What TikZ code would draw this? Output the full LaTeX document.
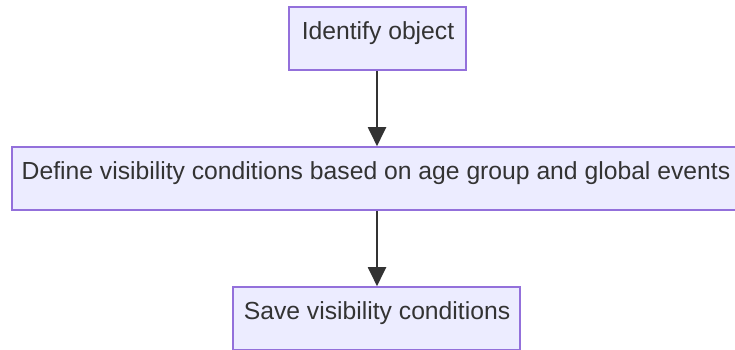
\documentclass[tikz,border=0pt]{standalone}
\usepackage{fontspec}
\setmainfont{Liberation Sans}
\usetikzlibrary{arrows.meta}
\definecolor{boxfill}{HTML}{ECECFF}
\definecolor{boxline}{HTML}{9370DB}
\definecolor{ink}{HTML}{333333}
\tikzset{
  stepbox/.style={draw=boxline, fill=boxfill, line width=1.6pt, inner sep=0pt},
  boxtext/.style={font=\fontsize{24.7}{28}\selectfont, text=ink},
  flow/.style={draw=ink, line width=2pt, -{Triangle[length=19pt,width=18pt]}}
}
\begin{document}
\begin{tikzpicture}[x=1pt,y=-1pt]
  \useasboundingbox (0,0) rectangle (735,349);
  \clip (0,0) rectangle (735,349);
  \fill[white] (0,0) rectangle (735,349);
  % boxes
  \node[stepbox, minimum width=177pt, minimum height=63pt] (a) at (377.5,38.5) {};
  \node[stepbox, minimum width=735pt, minimum height=63pt] (b) at (379.5,178.5) {};
  \node[stepbox, minimum width=287pt, minimum height=63pt] (c) at (376.5,318.5) {};
  % labels
  \node[boxtext] (ta) at (378,33.5) {Identify object};
  \node[boxtext] (tb) at (376,173.5) {Define visibility conditions based on age group and global events};
  \node[boxtext] (tc) at (377,313.5) {Save visibility conditions};
  % connectors
  \coordinate (ax) at (377,70);
  \draw[flow] (ax |- a.south) -- (ax |- b.north);
  \draw[flow] (ax |- b.south) -- (ax |- c.north);
\end{tikzpicture}
\end{document}
